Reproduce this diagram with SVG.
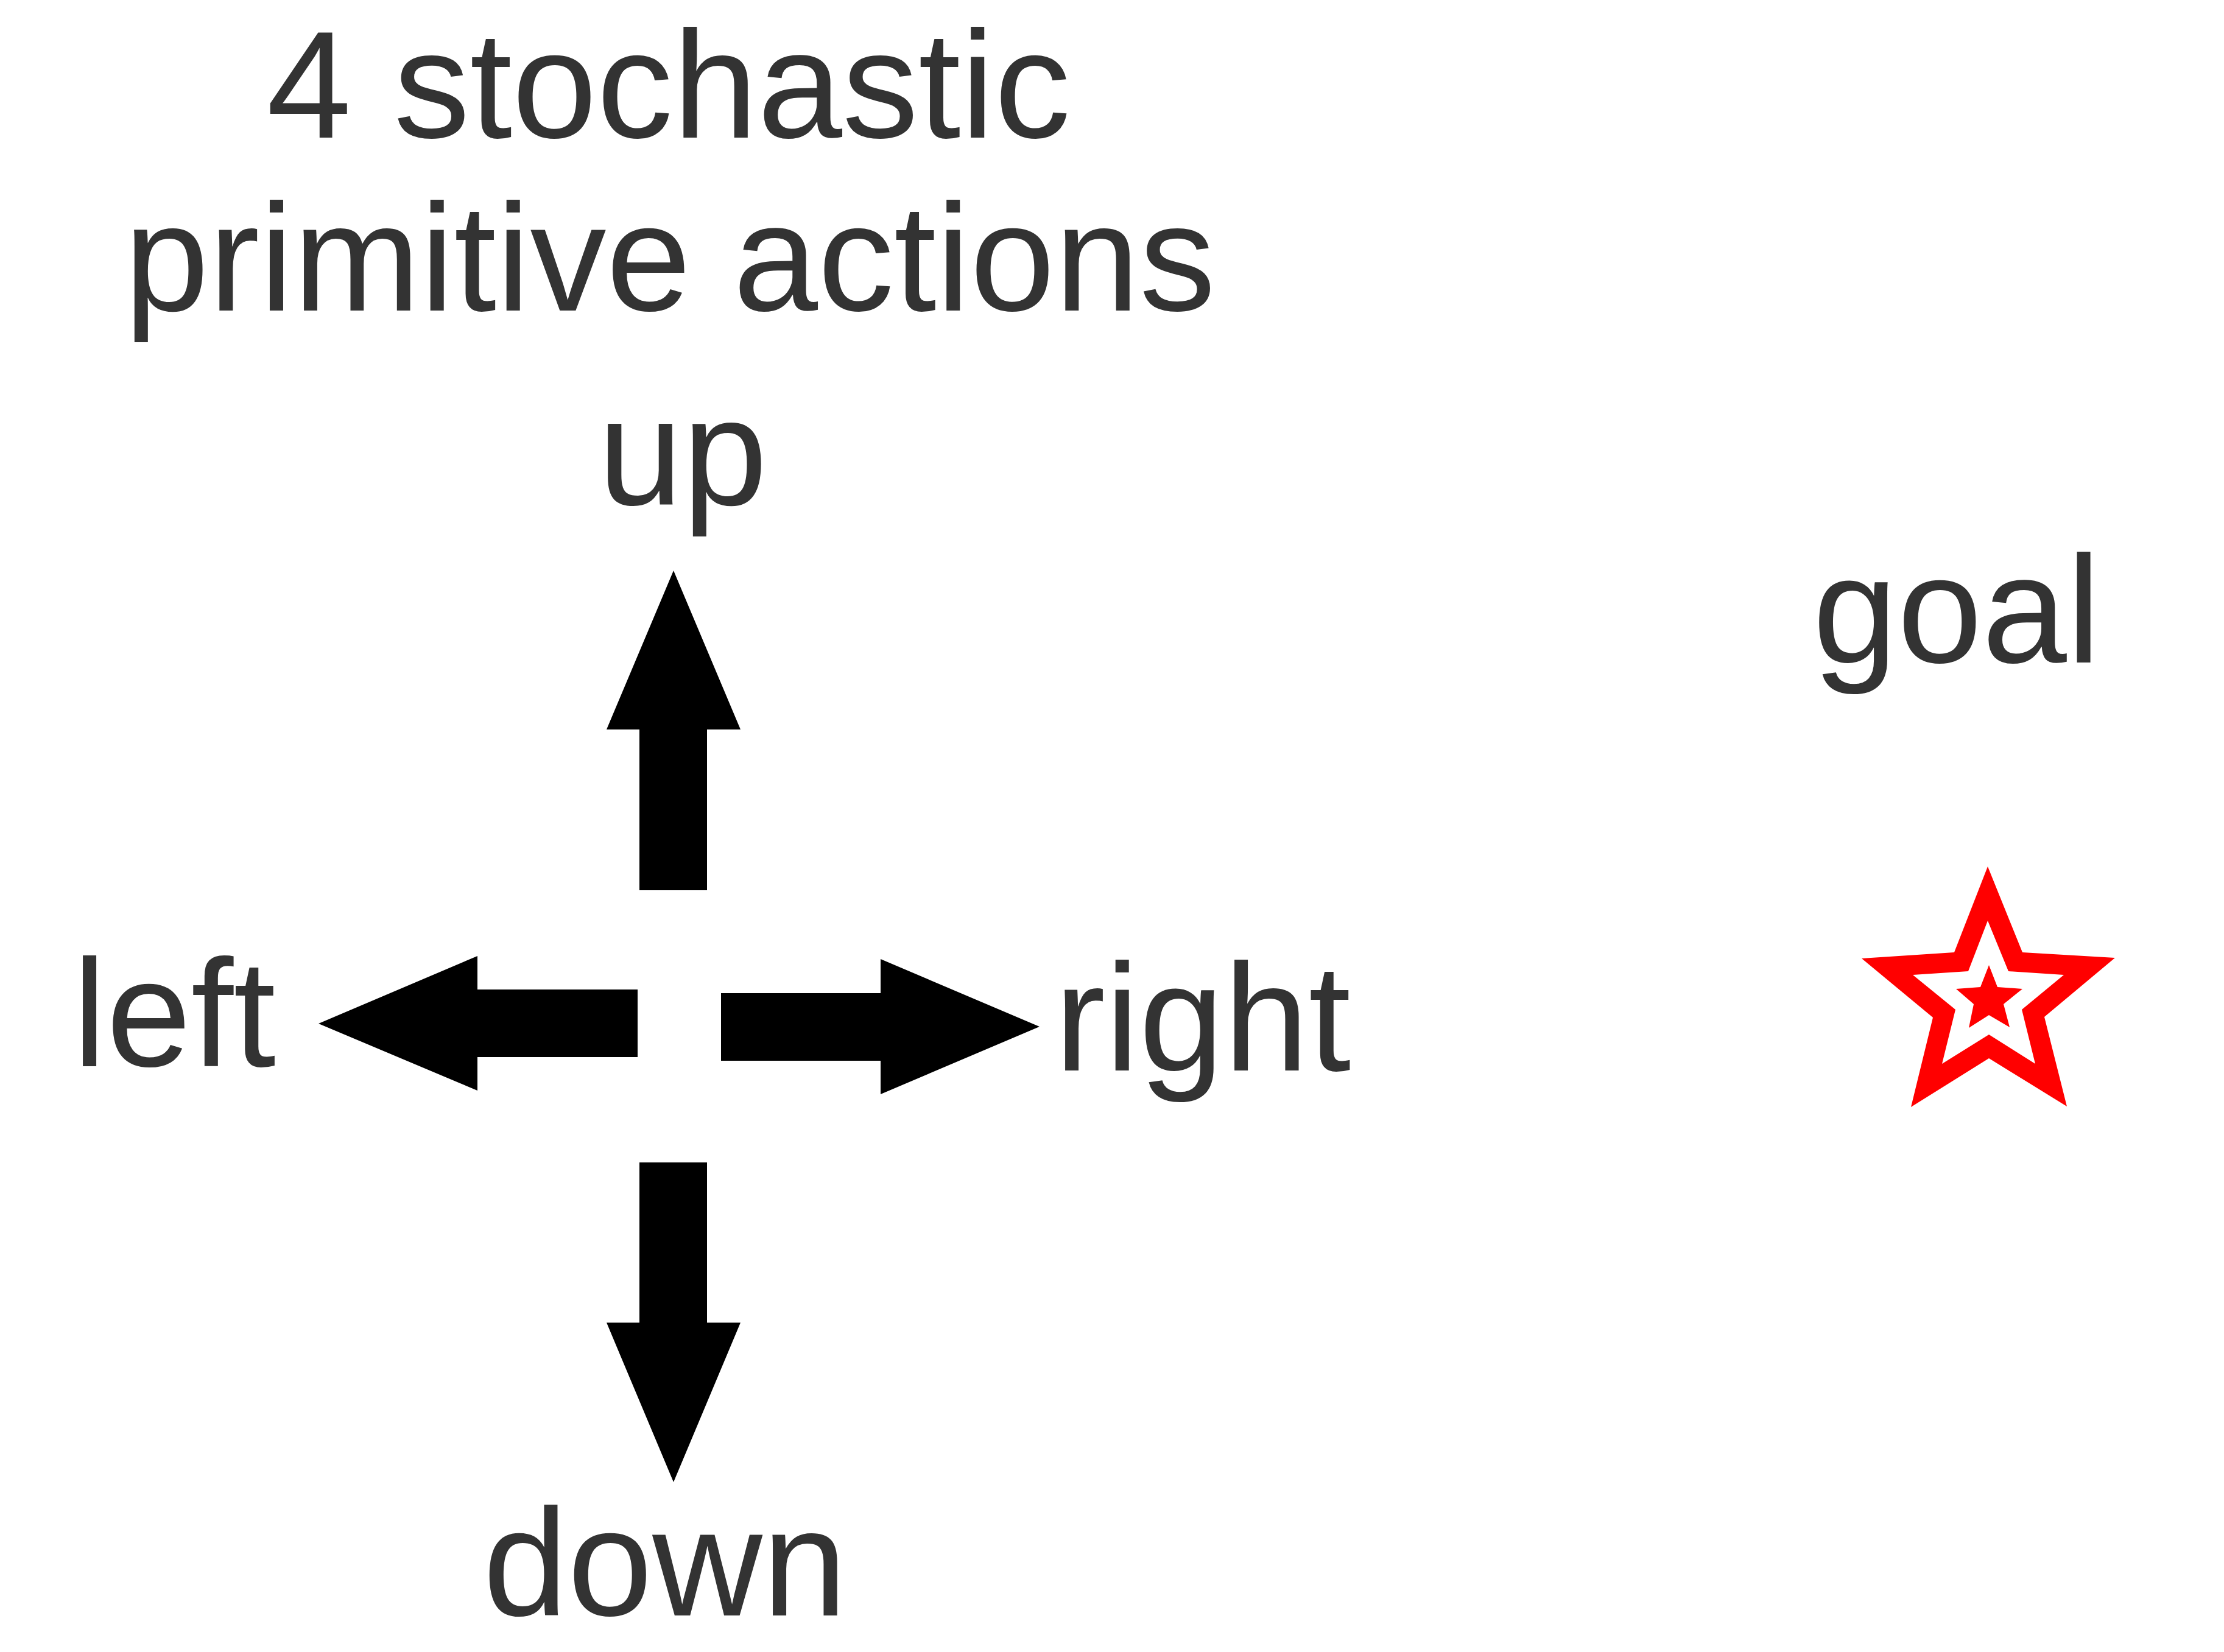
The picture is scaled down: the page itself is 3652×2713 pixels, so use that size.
<svg xmlns="http://www.w3.org/2000/svg" width="3652" height="2713" viewBox="0 0 3652 2713">
<style>
.t{font-family:"Liberation Sans",Arial,sans-serif;font-size:250px;fill:#333333;text-anchor:middle}
.arr{fill:#000000}
.star{fill:#ff0000;fill-rule:evenodd}
</style>
<rect width="3652" height="2713" fill="#ffffff"/>
<g id="title">
<text class="t" x="1098" y="226">4 stochastic</text>
<text class="t" x="1100" y="510">primitive actions</text>
</g>
<g id="connectors">
<polygon id="arrow-up" class="arr" points="1106,937 1216,1198 1161,1198 1161,1462 1050,1462 1050,1198 996,1198"/>
<polygon id="arrow-down" class="arr" points="1050,1909 1161,1909 1161,2172 1216,2172 1106,2434 996,2172 1050,2172"/>
<polygon id="arrow-left" class="arr" points="523,1681 784,1570 784,1625 1047,1625 1047,1736 784,1736 784,1791"/>
<polygon id="arrow-right" class="arr" points="1184,1631 1446,1631 1446,1575 1707,1686 1446,1797 1446,1742 1184,1742"/>
</g>
<g id="up"><text class="t" x="1121" y="829">up</text></g>
<g id="left"><text class="t" x="286" y="1751">left</text></g>
<g id="right"><text class="t" x="1975" y="1758">right</text></g>
<g id="down"><text class="t" x="1092" y="2653">down</text></g>
<g id="goal">
<text class="t" x="3213" y="1088">goal</text>
<path class="star" d="M3264,1423 L3321,1564 L3473,1573 L3357,1670 L3394,1817 L3266,1738 L3138,1818 L3174,1671 L3057,1574 L3209,1564 Z M3264,1512 L3232,1595 L3141,1601 L3211,1658 L3189,1747 L3266,1699 L3342,1747 L3320,1658 L3389,1601 L3298,1595 Z"/>
<polygon class="star" points="3266,1585 3280,1621 3321,1624 3290,1649 3300,1687 3266,1667 3233,1688 3241,1649 3212,1624 3252,1621"/>
</g>
</svg>
